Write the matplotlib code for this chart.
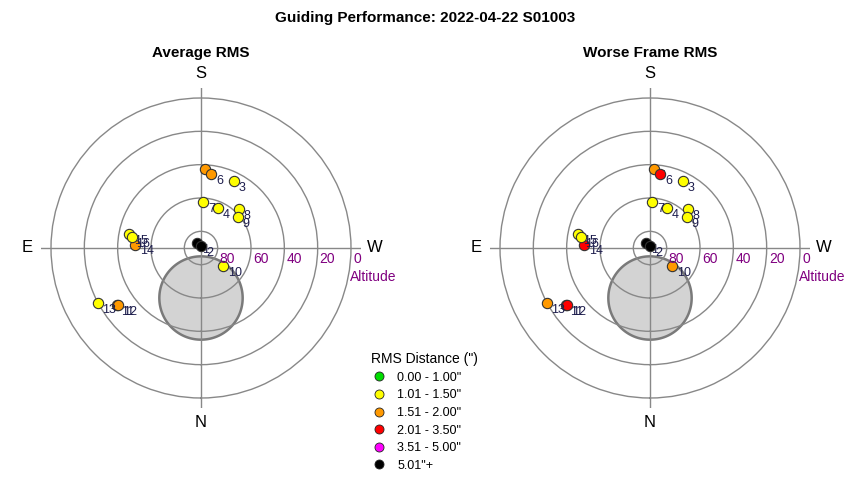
import numpy as np
import matplotlib
matplotlib.use("Agg")
import matplotlib.pyplot as plt
from matplotlib.lines import Line2D

plt.rcParams['font.family'] = ['Liberation Sans', 'DejaVu Sans']

# frame positions (azimuth: N=0, E=90, S=180, W=270; altitude in deg)
frame_ids = [1, 2, 3, 4, 5, 6, 7, 8, 9, 10, 11, 12, 13, 14, 15, 16]
azimuth = [145, 194, 206, 203, 183, 188, 183, 224, 230, 309, 56, 55.5, 62, 93, 101, 99]
altitude = [86.3, 88.8, 45.2, 64.2, 42.7, 45.4, 62.5, 57.2, 61.2, 73.2, 28.9, 29.4, 19.7, 50.4, 46.0, 47.9]

# rms class of each frame (index into bins below)
avg_class = [5, 5, 1, 1, 2, 2, 1, 1, 1, 1, 2, 2, 1, 2, 1, 1]
worst_class = [5, 5, 1, 1, 2, 3, 1, 1, 1, 2, 3, 3, 2, 3, 1, 1]

bin_labels = ['0.00 - 1.00"', '1.01 - 1.50"', '1.51 - 2.00"', '2.01 - 3.50"', '3.51 - 5.00"', '5.01"+']
bin_colors = ['#00dd00', '#ffff00', '#ff9900', '#ff0000', '#ff00ff', '#000000']

ring_alt = [80, 60, 40, 20, 0]

# shaded zone centre az/alt and radius in degrees
zone_az, zone_alt, zone_rad = 0, 60, 25

fig = plt.figure(figsize=(8.5, 4.8), dpi=100)
W, H = 850, 480
RMAX = 96


def draw_sky(cx, cy, classes, title):
    half = RMAX * 150 / 90
    ax = fig.add_axes([(cx - half) / W, (H - cy - half) / H, 2 * half / W, 2 * half / H],
                      projection='polar')
    ax.set_theta_zero_location('S')
    ax.set_theta_direction(-1)
    ax.set_rlim(0, RMAX)
    ax.spines['polar'].set_visible(False)
    ax.set_rgrids([90 - a for a in ring_alt])
    ax.set_thetagrids([0, 90, 180, 270])
    ax.set_xticklabels([])
    ax.set_yticklabels([])
    ax.grid(True, color='#888888', lw=1)
    ax.patch.set_alpha(0)

    # shaded zone
    t = np.linspace(0, 2 * np.pi, 200)
    zx = -(90 - zone_alt) * np.sin(np.radians(zone_az))
    zy = -(90 - zone_alt) * np.cos(np.radians(zone_az))
    px = zx + zone_rad * np.cos(t)
    py = zy + zone_rad * np.sin(t)
    ax.fill(np.arctan2(-px, -py), np.hypot(px, py), facecolor='#d3d3d3',
            edgecolor='#7a7a7a', lw=1.8, zorder=1)

    theta = np.radians(azimuth)
    r = 90 - np.array(altitude)
    for i, fid in enumerate(frame_ids):
        ax.scatter(theta[i], r[i], s=55, color=bin_colors[classes[i]],
                   edgecolor='#333333', lw=0.8, zorder=3)
        ax.annotate(str(fid), (theta[i], r[i]), xytext=(3.5, -5), textcoords='offset points',
                    ha='left', va='center', fontsize=9, color='#1c1c4c', zorder=3)

    for a in ring_alt:
        ax.annotate(str(a), (np.radians(270), 90 - a), xytext=(1.5, -3),
                    textcoords='offset points', ha='left', va='top',
                    fontsize=10, color='#800080')
    ax.annotate('Altitude', (np.radians(270), 90), xytext=(-1, -15.5),
                textcoords='offset points', ha='left', va='top',
                fontsize=10, color='#800080')

    for lab, az in [('S', 180), ('N', 0), ('E', 90), ('W', 270)]:
        ax.text(np.radians(az), 104.5, lab, ha='center', va='center', fontsize=12)

    fig.text(cx / W, 1 - 53 / H, title, ha='center', va='center',
             fontsize=11, fontweight='bold')


draw_sky(201, 248, avg_class, 'Average RMS')
draw_sky(650, 248, worst_class, 'Worse Frame RMS')

fig.text(0.5, 1 - 18 / H, 'Guiding Performance: 2022-04-22 S01003', ha='center',
         va='center', fontsize=11, fontweight='bold')

handles = [Line2D([], [], ls='', marker='o', markersize=6.5, markerfacecolor=c,
                  markeredgecolor='#222222', markeredgewidth=0.6) for c in bin_colors]
leg = fig.legend(handles, bin_labels, title='RMS Distance (")', loc='upper left',
                 bbox_to_anchor=(366 / W, 1 - 347 / H), frameon=False, fontsize=9,
                 title_fontsize=10, labelspacing=0.45, handletextpad=0.9,
                 handlelength=1.2, borderaxespad=0)
leg._legend_box.align = 'left'

fig.savefig('out.png', dpi=100)
